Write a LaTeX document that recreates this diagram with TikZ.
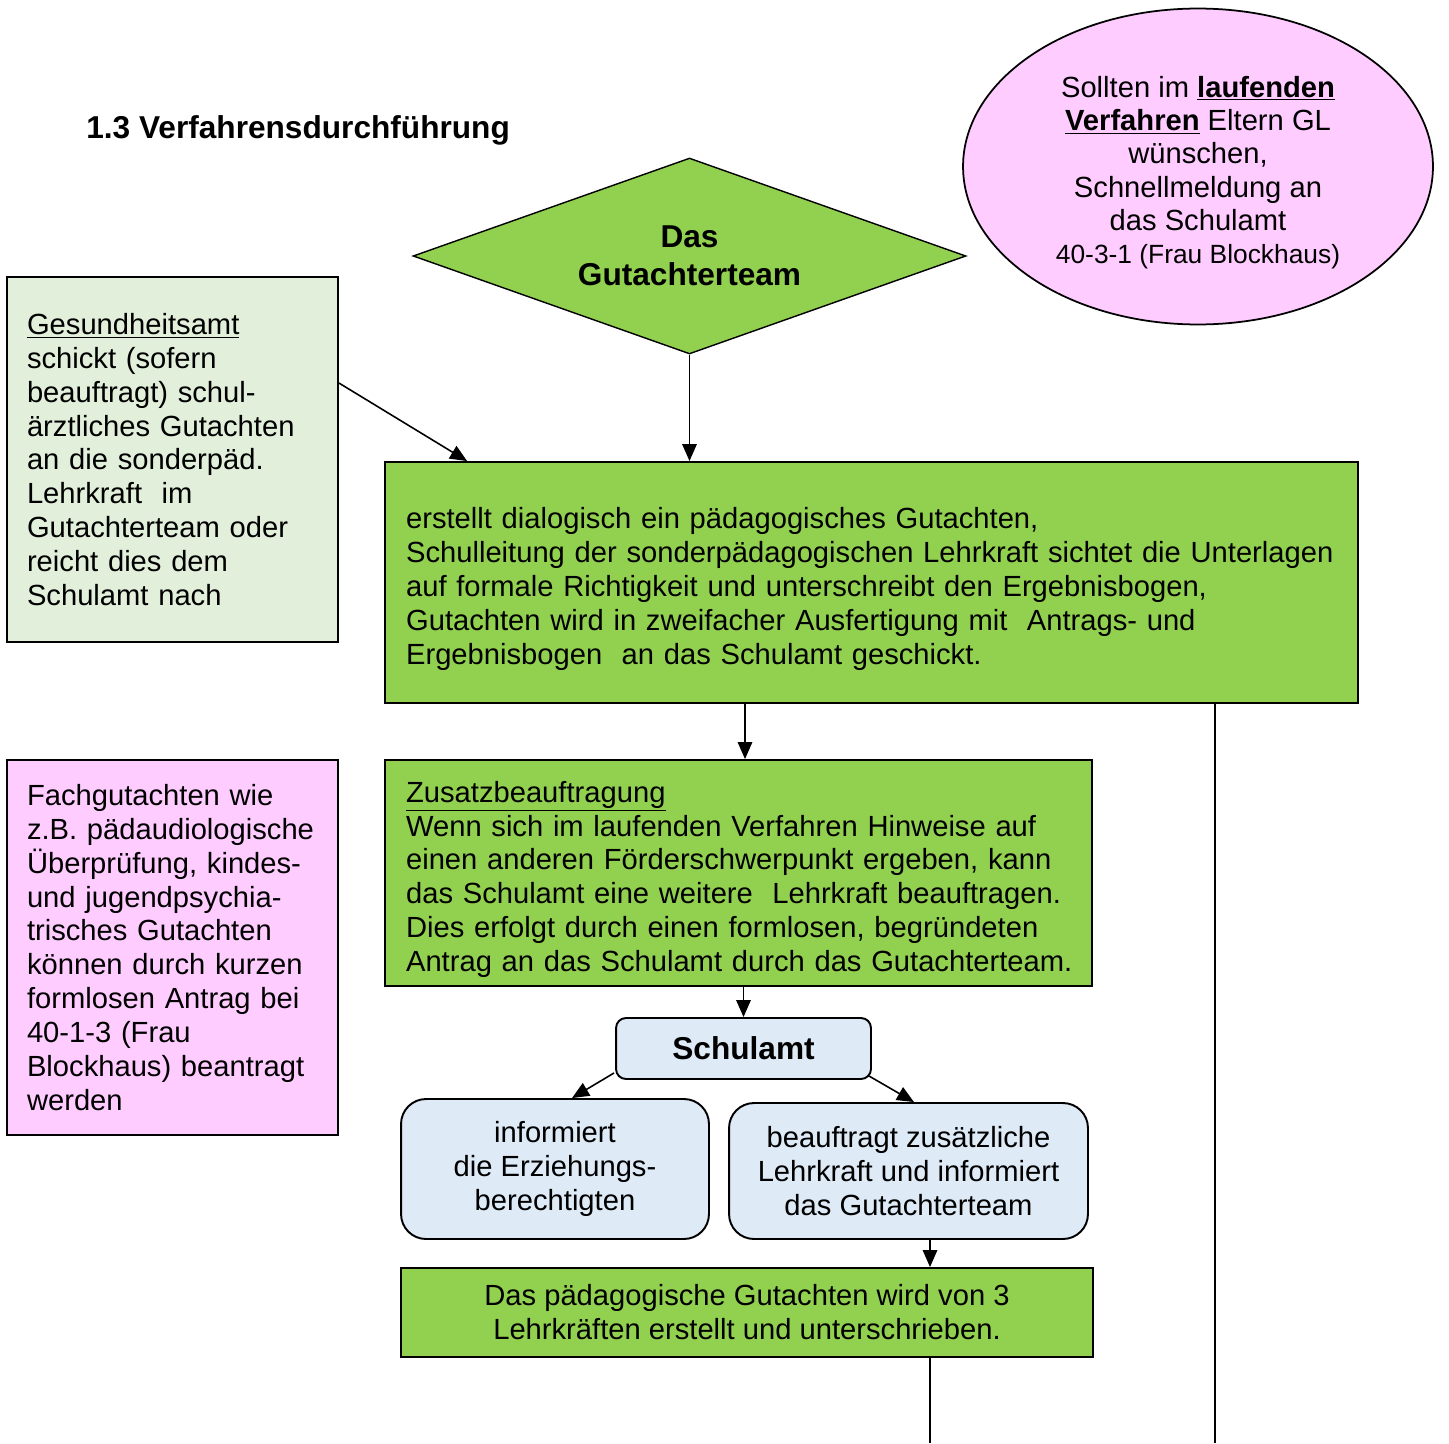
\documentclass[tikz,border=0pt]{standalone}
\usepackage{fontspec}
\setmainfont{Liberation Sans}
\usetikzlibrary{shapes.geometric,arrows.meta,calc}
\definecolor{grn}{HTML}{92D050}
\definecolor{lgrn}{HTML}{E2EFDA}
\definecolor{pinkbg}{HTML}{FFCCFF}
\definecolor{lblue}{HTML}{DEEAF6}
\begin{document}
\begin{tikzpicture}[x=0.02cm,y=-0.02cm,
  every node/.style={font=\fontsize{16.6}{19.3}\selectfont},
  box/.style={draw, line width=1.1pt, rectangle, inner xsep=0.42cm, inner ysep=0pt, align=left},
  rbox/.style={draw, line width=1.1pt, rectangle, rounded corners=0.5cm, align=center, fill=lblue, inner sep=0pt},
  arr/.style={line width=0.9pt, -{Triangle[length=0.34cm,width=0.29cm]}},
  conn/.style={line width=0.9pt}]
\useasboundingbox (0,0) rectangle (1449,1443);

% title
\node[anchor=west, inner sep=0pt, font=\bfseries\fontsize{18}{21}\selectfont] (title) at (86,130) {1.3 Verfahrensdurchführung};

% diamond
\node[draw, diamond, fill=grn, line width=0.8pt, minimum width=11.06cm, minimum height=3.92cm,
  inner sep=0pt, aspect=2.82, align=center, font=\bfseries\fontsize{18}{21.5}\selectfont] (dia) at (689.5,256) {Das\\Gutachterteam};

% ellipse
\node[draw, ellipse, fill=pinkbg, line width=1pt, minimum width=9.4cm, minimum height=6.32cm,
  inner sep=0pt, align=center, font=\fontsize{16.6}{19}\selectfont] (ell) at (1198,166.5)
  {\rule{0pt}{0.07cm}\\[-0.07cm]
   Sollten im \underline{\textbf{laufenden}}\\
   \underline{\textbf{Verfahren}} Eltern GL\\
   wünschen,\\
   Schnellmeldung an\\
   das Schulamt\\
   {\fontsize{15}{19}\selectfont 40-3-1 (Frau Blockhaus)}};

% Gesundheitsamt
\node[box, fill=lgrn, text width=5.82cm, minimum height=7.3cm, inner xsep=0.4cm] (ges) at (172.5,459.5)
  {\underline{Gesundheitsamt}\\
   schickt (sofern\\
   beauftragt) schul-\\
   ärztliches Gutachten\\
   an die sonderpäd.\\
   Lehrkraft\ \ im\\
   Gutachterteam oder\\
   reicht dies dem\\
   Schulamt nach};

% main box
\node[box, fill=grn, text width=18.62cm, minimum height=4.82cm] (main) at (871.5,582.5)
  {\rule{0pt}{0.06cm}\\[-0.06cm]
   erstellt dialogisch ein pädagogisches Gutachten,\\
   Schulleitung der sonderpädagogischen Lehrkraft sichtet die Unterlagen\\
   auf formale Richtigkeit und unterschreibt den Ergebnisbogen,\\
   Gutachten wird in zweifacher Ausfertigung mit\ \ Antrags- und\\
   Ergebnisbogen\ \ an das Schulamt geschickt.};

% Zusatz
\node[box, fill=grn, text width=13.3cm, minimum height=4.52cm] (zus) at (738.5,873)
  {\rule{0pt}{0.06cm}\\[-0.06cm]
   \underline{Zusatzbeauftragung}\\
   \mbox{Wenn sich im laufenden Verfahren Hinweise auf}\\
   \mbox{einen anderen Förderschwerpunkt ergeben, kann}\\
   \mbox{das Schulamt eine weitere\ \ Lehrkraft beauftragen.}\\
   \mbox{Dies erfolgt durch einen formlosen, begründeten}\\
   \mbox{Antrag an das Schulamt durch das Gutachterteam.}};

% Fachgutachten
\node[box, fill=pinkbg, text width=5.82cm, minimum height=7.5cm, inner xsep=0.4cm] (fach) at (172.5,947.5)
  {Fachgutachten wie\\
   \mbox{z.B. pädaudiologische}\\
   Überprüfung, kindes-\\
   und jugendpsychia-\\
   trisches Gutachten\\
   können durch kurzen\\
   formlosen Antrag bei\\
   40-1-3 (Frau\\
   Blockhaus) beantragt\\
   werden};

% Schulamt
\node[rbox, rounded corners=0.2cm, minimum width=5.1cm, minimum height=1.22cm,
  font=\bfseries\fontsize{18}{21}\selectfont] (sa) at (743.5,1048.5) {Schulamt};

% informiert
\node[rbox, minimum width=6.16cm, minimum height=2.8cm] (inf) at (555,1169)
  {informiert\\ die Erziehungs-\\ berechtigten};

% beauftragt
\node[rbox, minimum width=7.18cm, minimum height=2.72cm] (bea) at (908.5,1171)
  {beauftragt zusätzliche\\ Lehrkraft und informiert\\ das Gutachterteam};

% final
\node[box, fill=grn, align=center, minimum width=13.84cm, minimum height=1.78cm, inner xsep=0pt] (fin) at (747,1312.5)
  {Das pädagogische Gutachten wird von 3\\ Lehrkräften erstellt und unterschrieben.};

% free ends
\coordinate (endA) at (930,1443);
\coordinate (endB) at (1215,1443);

% connectors
\draw[arr] ([yshift=1.53cm]ges.east) -- ([xshift=1.66cm]main.north west);
\draw[arr] (dia.south) -- (dia.south |- main.north);
\draw[arr] ([xshift=0.13cm]zus.north |- main.south) -- ([xshift=0.13cm]zus.north);
\draw[arr] (sa.north |- zus.south) -- (sa.north);
\draw[arr] ([xshift=-0.02cm,yshift=0.14cm]sa.south west) -- ([xshift=0.34cm]inf.north);
\draw[arr] ([xshift=-0.06cm,yshift=0.08cm]sa.south east) -- ([xshift=0.11cm]bea.north);
\draw[arr] ([xshift=0.43cm]bea.south) -- ([xshift=0.43cm]bea.south |- fin.north);
\draw[conn] (endA |- fin.south) -- (endA);
\draw[conn] (endB |- main.south) -- (endB);
\end{tikzpicture}
\end{document}
